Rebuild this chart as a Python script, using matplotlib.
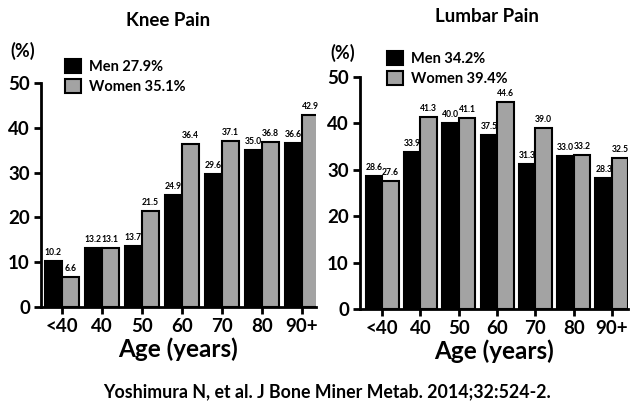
import numpy as np
import matplotlib.pyplot as plt

ages = ['<40', '40', '50', '60', '70', '80', '90+']
knee_men = [10.2, 13.2, 13.7, 24.9, 29.6, 35.0, 36.6]
knee_women = [6.6, 13.1, 21.5, 36.4, 37.1, 36.8, 42.9]
lumbar_men = [28.6, 33.9, 40.0, 37.5, 31.3, 33.0, 28.3]
lumbar_women = [27.6, 41.3, 41.1, 44.6, 39.0, 33.2, 32.5]

plt.rcParams['font.family'] = ['Lato', 'DejaVu Sans']
plt.rcParams['font.weight'] = 'bold'

fig = plt.figure(figsize=(6.33, 4.04), dpi=100)
W, H = 633, 404

def px_axes(x0, x1, y0, y1):
    return fig.add_axes([x0 / W, 1 - y1 / H, (x1 - x0) / W, (y1 - y0) / H])

def draw(ax, men, women, title, men_lbl, women_lbl, xlim, leg_xy, title_xy, pct_xy):
    x = np.arange(len(ages))
    w = 0.43
    bm = ax.bar(x - w / 2, men, w, color='black', edgecolor='black', linewidth=1.5,
                label=men_lbl)
    bw = ax.bar(x + w / 2, women, w, color='#a3a3a3', edgecolor='black', linewidth=1.5,
                label=women_lbl)
    for xi, v in zip(x - w / 2, men):
        ax.text(xi, v + 0.9, f'{v:.1f}', ha='center', va='bottom', fontsize=6.2, fontweight='bold')
    for xi, v in zip(x + w / 2, women):
        ax.text(xi, v + 0.9, f'{v:.1f}', ha='center', va='bottom', fontsize=6.2, fontweight='bold')
    ax.set_xlim(*xlim)
    ax.set_ylim(0, 50)
    ax.set_yticks([0, 10, 20, 30, 40, 50])
    ax.set_xticks(x)
    ax.set_xticklabels(ages)
    for s in ['top', 'right']:
        ax.spines[s].set_visible(False)
    for s in ['left', 'bottom']:
        ax.spines[s].set_linewidth(2)
    ax.tick_params(axis='both', width=2, length=5, labelsize=13.5, pad=3)
    ax.set_xlabel('Age (years)', fontsize=17.5, fontweight='bold', labelpad=2)
    fig.text(title_xy[0] / W, 1 - title_xy[1] / H, title, ha='center', va='center',
             fontsize=13.5, fontweight='bold')
    fig.text(pct_xy[0] / W, 1 - pct_xy[1] / H, '(%)', ha='center', va='center',
             fontsize=13, fontweight='bold')
    ax.legend(handles=[bm, bw], loc='upper left',
              bbox_to_anchor=(leg_xy[0] / W, 1 - leg_xy[1] / H),
              bbox_transform=fig.transFigure, frameon=False, fontsize=10.5,
              handlelength=1.1, handleheight=1.1, handletextpad=0.55,
              labelspacing=0.35, borderpad=0)

ax1 = px_axes(41, 316, 83, 307)
draw(ax1, knee_men, knee_women, 'Knee Pain', 'Men 27.9%', 'Women 35.1%',
     (-0.52, 6.35), (58, 52), (168, 20), (23, 51))

ax2 = px_axes(360, 628, 77, 309)
draw(ax2, lumbar_men, lumbar_women, 'Lumbar Pain', 'Men 34.2%', 'Women 39.4%',
     (-0.58, 6.42), (380, 44), (487, 17), (343, 53))

fig.text(327 / W, 1 - 392 / H, 'Yoshimura N, et al. J Bone Miner Metab. 2014;32:524-2.',
         ha='center', va='center', fontsize=12.8, fontweight='bold')

fig.savefig('out.png', dpi=100)
